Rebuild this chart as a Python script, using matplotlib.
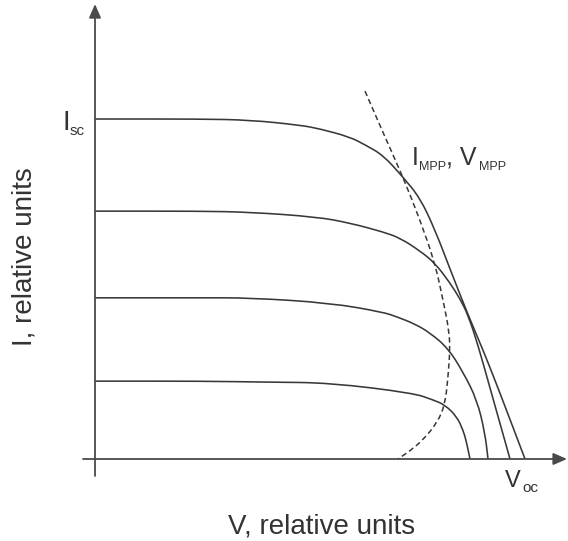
import numpy as np
import matplotlib
matplotlib.use("Agg")
import matplotlib.pyplot as plt
from matplotlib.path import Path
from matplotlib.patches import PathPatch

plt.rcParams['font.family'] = ['Liberation Sans', 'DejaVu Sans']

# I-V curves (V and I in relative units, Isc of top curve = 1)
v1 = [0, .2625, .3875, .5125, .5625, .6375, .675, .72, .77, .8125, .85, .8875, .9325, .97, 1.0125, 1.075]
i1 = [1.0, 1.0, .997, .982, .971, .947, .924, .894, .829, .768, .674, .559, .424, .321, .194, 0]

v2 = [0, .2625, .3875, .555, .6375, .72, .7625, .8125, .85, .8875, .9125, .9325, .9575, .9875, 1.0375]
i2 = [.729, .729, .726, .712, .694, .668, .65, .612, .576, .518, .471, .424, .335, .209, 0]

v3 = [0, .2625, .3875, .5875, .72, .755, .8, .8375, .8825, .92, .955, .975, .9825]
i3 = [.474, .474, .474, .459, .432, .418, .397, .371, .326, .256, .174, .076, 0]

v4 = [0, .2625, .4375, .5875, .795, .845, .875, .905, .92, .9275, .9375]
i4 = [.229, .229, .226, .224, .194, .174, .159, .124, .085, .056, 0]

# locus of maximum power points (dashed)
v_mpp = [.675, .725, .77, .8125, .85, .87, .885, .8875, .8825, .875, .855, .82, .7875, .7575]
i_mpp = [1.082, .947, .829, .703, .576, .468, .379, .321, .241, .159, .106, .056, .024, 0]

curves = [(v1, i1), (v2, i2), (v3, i3), (v4, i4)]


def smooth_path(v, i):
    # quadratic bezier path through the midpoints, read points used as control points
    pts = np.column_stack([v, i])
    verts = [pts[0], (pts[0] + pts[1]) / 2]
    codes = [Path.MOVETO, Path.LINETO]
    for k in range(1, len(pts) - 1):
        verts += [pts[k], (pts[k] + pts[k + 1]) / 2]
        codes += [Path.CURVE3, Path.CURVE3]
    verts.append(pts[-1])
    codes.append(Path.LINETO)
    return Path(verts, codes)


fig = plt.figure(figsize=(5.68, 5.41), dpi=100)
ax = fig.add_axes([0, 0, 1, 1])
ax.set_xlim(-0.2375, 1.1825)
ax.set_ylim(-0.2412, 1.35)
ax.axis('off')

line_col = '#383838'
axis_col = '#4a4a4a'

for v, i in curves:
    ax.add_patch(PathPatch(smooth_path(v, i), fill=False, edgecolor=line_col, lw=1.15))
ax.add_patch(PathPatch(smooth_path(v_mpp, i_mpp), fill=False, edgecolor=line_col,
                       lw=1.1, linestyle=(0, (3.5, 2.2))))

arrow = dict(arrowstyle='-|>,head_length=0.55,head_width=0.24', lw=1.3,
             color=axis_col, mutation_scale=15, shrinkA=0, shrinkB=0)
ax.annotate('', xy=(1.18, 0), xytext=(-0.03, 0), arrowprops=arrow)
ax.annotate('', xy=(0, 1.338), xytext=(0, -0.05), arrowprops=arrow)

txt = dict(color='#333333')
ax.text(-0.08, 0.968, 'I', fontsize=20, ha='left', va='baseline', **txt)
ax.text(-0.064, 0.953, 'sc', fontsize=11, ha='left', va='baseline', **txt)

ax.text(1.025, -0.082, 'V', fontsize=17, ha='left', va='baseline', **txt)
ax.text(1.0675, -0.097, 'oc', fontsize=11, ha='left', va='baseline', **txt)

ax.text(0.7925, 0.865, 'I', fontsize=18, ha='left', va='baseline', **txt)
ax.text(0.81, 0.85, 'MPP', fontsize=9, ha='left', va='baseline', **txt)
ax.text(0.878, 0.865, ', V', fontsize=18, ha='left', va='baseline', **txt)
ax.text(0.96, 0.85, 'MPP', fontsize=9, ha='left', va='baseline', **txt)

ax.text(0.5675, -0.218, 'V, relative units', fontsize=20, ha='center', va='baseline', **txt)
ax.text(-0.175, 0.594, 'I, relative units', fontsize=20, rotation=90,
        ha='center', va='center', **txt)

fig.savefig('out.png', dpi=100)
